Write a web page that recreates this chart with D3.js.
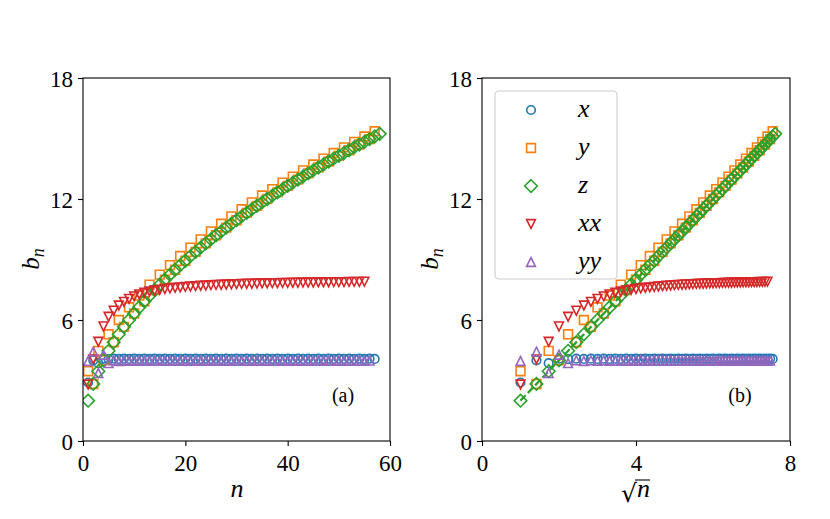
<!DOCTYPE html>
<html><head><meta charset="utf-8">
<script src="https://cdn.jsdelivr.net/npm/d3@7"></script>
<style>
body{margin:0;background:#fff;}
svg{display:block;}
.tick text{font-family:"Liberation Serif","DejaVu Serif",serif;font-size:23px;fill:#000;}
</style></head><body>
<svg id="c" width="830" height="519"></svg>
<script>
// ---- data (index i corresponds to n = i+1) ----
const xVals = [2.9,4.0,3.86,4.08,4.06,4.08,4.07,4.08,4.07,4.08,4.07,4.08,4.07,4.08,4.07,4.08,4.07,4.08,4.07,4.08,
  4.07,4.08,4.07,4.08,4.07,4.08,4.07,4.08,4.07,4.08,4.07,4.08,4.07,4.08,4.07,4.08,4.07,4.08,4.07,4.08,
  4.07,4.08,4.07,4.08,4.07,4.08,4.07,4.08,4.07,4.08,4.07,4.08,4.07,4.08,4.07,4.08,4.07];
const yVals = [3.46,2.83,4.47,4.00,5.29,4.90,6.00,5.66,6.63,6.32,7.21,6.93,7.75,7.48,8.25,8.00,8.72,8.49,9.17,8.94,
  9.59,9.38,10.00,9.80,10.39,10.20,10.77,10.58,11.14,10.95,11.49,11.31,11.83,11.66,12.17,12.00,12.49,12.33,12.81,12.65,
  13.11,12.96,13.42,13.27,13.71,13.56,14.00,13.86,14.28,14.14,14.56,14.42,14.83,14.70,15.10,14.97,15.36];
const zVals = [2.00,2.83,3.46,4.00,4.47,4.90,5.29,5.66,6.00,6.32,6.63,6.93,7.21,7.48,7.75,8.00,8.25,8.49,8.72,8.94,
  9.17,9.38,9.59,9.80,10.00,10.20,10.39,10.58,10.77,10.95,11.14,11.31,11.49,11.66,11.83,12.00,12.17,12.33,12.49,12.65,
  12.81,12.96,13.11,13.27,13.42,13.56,13.71,13.86,14.00,14.14,14.28,14.42,14.56,14.70,14.83,14.97,15.10,15.23];
const xxVals = [2.8,4.05,4.92,5.68,6.16,6.46,6.72,6.9,7.05,7.17,7.27,7.35,7.41,7.46,7.5,7.54,7.57,7.6,7.62,7.64,
  7.66,7.68,7.7,7.71,7.73,7.74,7.75,7.76,7.77,7.78,7.79,7.8,7.8,7.81,7.82,7.82,7.83,7.83,7.84,7.84,
  7.85,7.85,7.86,7.86,7.86,7.87,7.87,7.87,7.88,7.88,7.88,7.89,7.89,7.89,7.9];
const yyVals = [3.97,4.43,3.37,4.28,3.86,4.0,3.97,4.0,3.98,4.0,3.98,3.99,3.98,3.99,3.98,3.99,3.98,3.99,3.98,3.99,
  3.98,3.99,3.98,3.99,3.98,3.99,3.98,3.99,3.98,3.99,3.98,3.99,3.98,3.99,3.98,3.99,3.98,3.99,3.98,3.99,
  3.98,3.99,3.98,3.99,3.98,3.99,3.98,3.99,3.98,3.99,3.98,3.99,3.98,3.99,3.98,3.99];
const fitX = [1, 7.62];      // sqrt(n) endpoints of dashed guide
const fitY = [2.0, 15.23];
const yTicks = [0, 6, 12, 18];
const xTicksA = [0, 20, 40, 60];
const xTicksB = [0, 4, 8];
const seriesNames = ["x","y","z","xx","yy"];
const colors = ["#1f77b4","#ff7f0e","#2ca02c","#d62728","#9467bd"];
const shapes = ["circle","square","diamond","tdown","tup"];
const allSeries = [xVals,yVals,zVals,xxVals,yyVals];

// ---- drawing ----
const svg = d3.select("#c");
const SERIF = '"Liberation Serif","DejaVu Serif",serif';
const yS = d3.scaleLinear([0,18],[441,78]);
const xA = d3.scaleLinear([0,60],[83,390]);
const xB = d3.scaleLinear([0,8],[482,790]);

function drawMarker(g, shape, cx, cy, color){
  const s = 4.4;
  let el;
  if(shape==="circle"){
    el = g.append("circle").attr("cx",cx).attr("cy",cy).attr("r",4.3);
  } else {
    let p;
    if(shape==="square") p = `M${cx-s},${cy-s}H${cx+s}V${cy+s}H${cx-s}Z`;
    else if(shape==="diamond"){ const d=6.3; p = `M${cx},${cy-d}L${cx+d},${cy}L${cx},${cy+d}L${cx-d},${cy}Z`; }
    else if(shape==="tdown") p = `M${cx-s},${cy-s}L${cx+s},${cy-s}L${cx},${cy+s}Z`;
    else p = `M${cx-s},${cy+s}L${cx+s},${cy+s}L${cx},${cy-s}Z`;
    el = g.append("path").attr("d",p);
  }
  el.attr("fill","none").attr("stroke",color).attr("stroke-width",1.6).attr("stroke-linejoin","miter");
}

function panel(xS, xTicks, useSqrt, drawFit){
  const g = svg.append("g");
  const [x0,x1] = xS.range();
  const clipId = "clip"+Math.round(x0);
  svg.append("clipPath").attr("id",clipId).append("rect")
    .attr("x",x0).attr("y",78).attr("width",x1-x0).attr("height",441-78);
  const pg = g.append("g").attr("clip-path",`url(#${clipId})`);
  allSeries.forEach((vals,si)=>{
    const sg = pg.append("g");
    vals.forEach((v,i)=>{
      const n = i+1;
      const xv = useSqrt ? Math.sqrt(n) : n;
      drawMarker(sg, shapes[si], xS(xv), yS(v), colors[si]);
    });
    if(drawFit && si===2){
      pg.append("path")
        .attr("d", d3.line().x(d=>xS(d)).y((d,i)=>yS(fitY[i]))(fitX))
        .attr("stroke",colors[2]).attr("stroke-width",2.3).attr("fill","none")
        .attr("stroke-dasharray","7.4,3.2");
    }
  });
  g.append("rect").attr("x",x0).attr("y",78).attr("width",x1-x0).attr("height",441-78)
    .attr("fill","none").attr("stroke","#000").attr("stroke-width",1.1);
  const ax = g.append("g").attr("transform","translate(0,441)")
    .call(d3.axisBottom(xS).tickValues(xTicks).tickSize(5).tickPadding(4).tickFormat(d3.format("d")));
  const ay = g.append("g").attr("transform",`translate(${x0},0)`)
    .call(d3.axisLeft(yS).tickValues(yTicks).tickSize(5).tickPadding(5).tickFormat(d3.format("d")));
  [ax,ay].forEach(a=>{ a.select(".domain").remove(); a.selectAll(".tick line").attr("stroke","#000").attr("stroke-width",1.1); });
  ax.selectAll(".tick text").attr("dy","0.9em");
  ay.selectAll(".tick text").attr("dy","0.36em");
  const yl = g.append("text").attr("transform",`translate(${x0-44},259) rotate(-90)`)
    .attr("text-anchor","middle").attr("font-family",SERIF).attr("font-size",25);
  yl.append("tspan").attr("font-style","italic").text("b");
  yl.append("tspan").attr("font-style","italic").attr("font-size",18).attr("dy",5).text("n");
  return g;
}

panel(xA, xTicksA, false, false);
panel(xB, xTicksB, true, true);

// x labels
svg.append("text").attr("x",237).attr("y",497).attr("text-anchor","middle")
  .attr("font-family",SERIF).attr("font-size",26).attr("font-style","italic").text("n");
svg.append("text").attr("x",621).attr("y",502)
  .attr("font-family","DejaVu Serif, serif").attr("font-size",25).text("√");
svg.append("text").attr("x",637).attr("y",497)
  .attr("font-family",SERIF).attr("font-size",26).attr("font-style","italic").text("n");
svg.append("line").attr("x1",635).attr("x2",650).attr("y1",480).attr("y2",480)
  .attr("stroke","#000").attr("stroke-width",1.1);

// panel labels
svg.append("text").attr("x",343).attr("y",402).attr("text-anchor","middle")
  .attr("font-family",SERIF).attr("font-size",20).text("(a)");
svg.append("text").attr("x",740).attr("y",402).attr("text-anchor","middle")
  .attr("font-family",SERIF).attr("font-size",20).text("(b)");

// legend
const lg = svg.append("g");
lg.append("rect").attr("x",495).attr("y",91).attr("width",122).attr("height",188)
  .attr("rx",4).attr("fill","#fff").attr("fill-opacity",0.8).attr("stroke","#cccccc").attr("stroke-width",1.1);
seriesNames.forEach((nm,i)=>{
  const cy = 110 + i*38;
  drawMarker(lg, shapes[i], 531, cy, colors[i]);
  lg.append("text").attr("x",578).attr("y",cy+7).attr("font-family",SERIF)
    .attr("font-size",26).attr("font-style","italic").text(nm);
});
</script>
</body></html>
